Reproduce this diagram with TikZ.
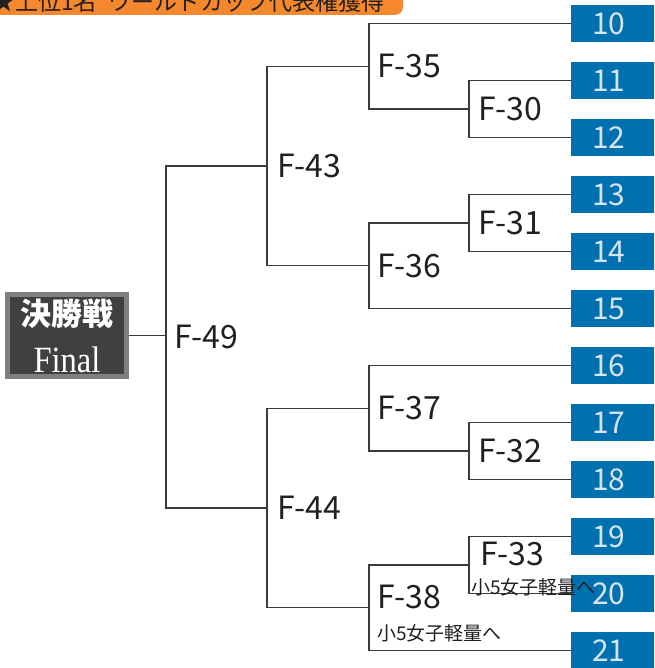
\documentclass[tikz,border=0pt]{standalone}
\usepackage{fontspec}
\usepackage{graphicx}
\setmainfont{Noto Sans CJK JP}
\newfontfamily\finalfont{Liberation Serif}
\usetikzlibrary{calc}
\definecolor{seedblue}{RGB}{0,113,176}
\definecolor{seedtext}{RGB}{215,228,238}
\definecolor{linegray}{RGB}{58,58,58}
\definecolor{inkblack}{RGB}{35,31,32}
\definecolor{finalfill}{RGB}{64,64,64}
\definecolor{finalrim}{RGB}{128,128,128}
\definecolor{bannerorange}{RGB}{245,135,45}
\definecolor{banneryellow}{RGB}{255,230,0}
\tikzset{
    %Define style for seed boxes
    seed/.style={
           rectangle,
           fill=seedblue,
           text=seedtext,
           anchor=west,
           minimum width=84pt,
           minimum height=37pt,
           inner sep=0pt,
           font=\fontsize{30}{30}\selectfont},
    %Define style for match labels
    match/.style={
           anchor=west,
           inner sep=0pt,
           text=inkblack,
           font=\fontsize{32}{32}\selectfont},
    note/.style={
           anchor=west,
           inner sep=0pt,
           text=inkblack,
           font=\fontsize{19}{19}\selectfont},
    %Define style for the final box
    final/.style={
           rectangle,
           fill=finalfill,
           draw=finalrim,
           line width=5pt,
           minimum width=119pt,
           minimum height=82pt,
           inner sep=0pt,
           text=white,
           align=center,
           font=\fontsize{31}{47}\selectfont},
    % Define bracket line style
    bracket/.style={
           draw=linegray,
           line width=1.2pt}
}
\begin{document}
\begin{tikzpicture}[x=1pt,y=-1pt]
\useasboundingbox (0,0) rectangle (654,668);
\clip (0,0) rectangle (654,668);
% banner
\shade[left color=bannerorange, middle color=banneryellow, right color=bannerorange,
  rounded corners=8pt] (-20,-20) rectangle (403,15);
\node[anchor=base west, inner sep=0pt, text=inkblack, font=\fontsize{23}{23}\selectfont]
  (banner) at (-8,11) {★上位1名\hspace{0.5em}ワールドカップ代表権獲得};
% seeds
\foreach \n [count=\i from 0] in {10,...,21}
  \node[seed] (s\n) at (571,{23.5+57*\i}) {\hspace*{-9pt}\n};
% match points
\coordinate (m30) at (469,109);
\coordinate (m35) at (369,66.25);
\coordinate (m31) at (469,223);
\coordinate (m36) at (369,265.75);
\coordinate (m43) at (267,166);
\coordinate (m32) at (469,451);
\coordinate (m37) at (369,408.25);
\coordinate (m33) at (469,565);
\coordinate (m38) at (369,607.75);
\coordinate (m44) at (267,508);
\coordinate (m49) at (166,337);
% final
\node[final] (final) at (67,335.5)
  {{\bfseries 決勝戦}\\
   {\fontsize{37}{47}\selectfont\finalfont\scalebox{0.88}[1]{Final}}};
% brackets
\draw[bracket] (s11.west) -| (m30) |- (s12.west);
\draw[bracket] (s10.west) -| (m35) |- (m30);
\draw[bracket] (s13.west) -| (m31) |- (s14.west);
\draw[bracket] (m31) -| (m36) |- (s15.west);
\draw[bracket] (m35) -| (m43) |- (m36);
\draw[bracket] (s17.west) -| (m32) |- (s18.west);
\draw[bracket] (s16.west) -| (m37) |- (m32);
\draw[bracket] (s19.west) -| (m33) |- (s20.west);
\draw[bracket] (m33) -| (m38) |- (s21.west);
\draw[bracket] (m37) -| (m44) |- (m38);
\draw[bracket] (m43) -| (m49) |- (m44);
\draw[bracket] (final.east) -- (final.east -| m49);
% labels
\node[match, xshift=9pt] (f30) at (m30) {F-30};
\node[match, xshift=8pt] (f35) at (m35) {F-35};
\node[match, xshift=9pt] (f31) at (m31) {F-31};
\node[match, xshift=8pt] (f36) at (m36) {F-36};
\node[match, xshift=10pt] (f43) at (m43) {F-43};
\node[match, xshift=9pt] (f32) at (m32) {F-32};
\node[match, xshift=8pt] (f37) at (m37) {F-37};
\node[match, xshift=10pt] (f44) at (m44) {F-44};
\node[match, xshift=8pt] (f49) at (m49) {F-49};
\node[match] (f33) at (480,554) {F-33};
\node[note] (n33) at (471,587) {小5女子軽量へ};
\node[match] (f38) at (377,597) {F-38};
\node[note] (n38) at (377,633) {小5女子軽量へ};
\end{tikzpicture}
\end{document}
